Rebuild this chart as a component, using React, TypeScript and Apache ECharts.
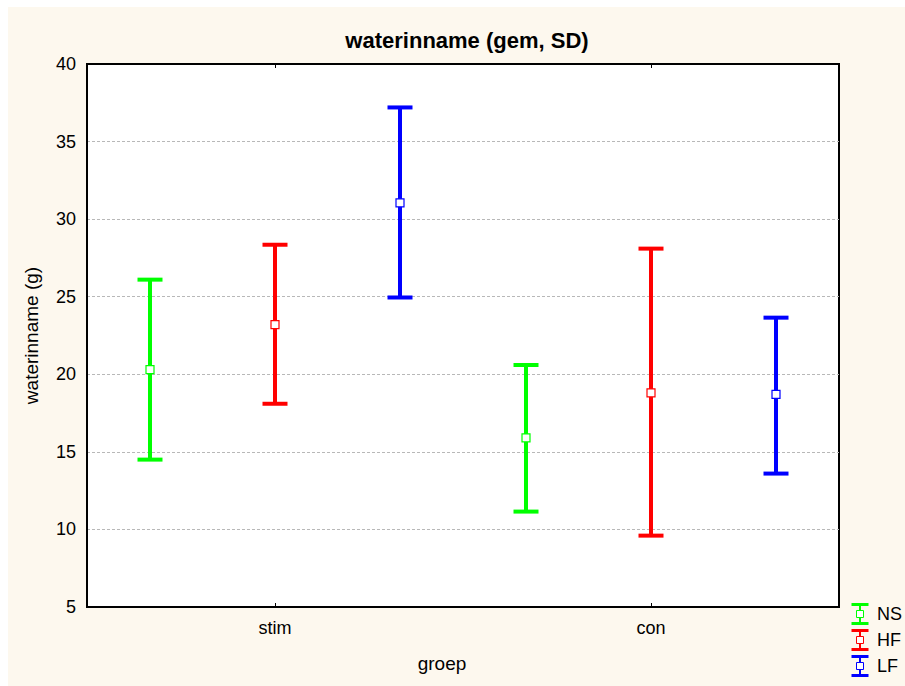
import React, { useEffect, useRef } from "react";
import * as echarts from "echarts";

const categories = ["stim", "con"];
const seriesNames = ["NS", "HF", "LF"];
const seriesColors = ["#00ff00", "#ff0000", "#0000ff"];
// mean per category
const nsMean = [20.3, 15.9];
const hfMean = [23.2, 18.8];
const lfMean = [31.05, 18.7];
// lower (mean - SD)
const nsLow = [14.5, 11.15];
const hfLow = [18.1, 9.6];
const lfLow = [24.95, 13.6];
// upper (mean + SD)
const nsHigh = [26.1, 20.6];
const hfHigh = [28.35, 28.1];
const lfHigh = [37.2, 23.65];
const yTicks = { min: 5, max: 40, interval: 5 };

const FONT = "Arial, 'Liberation Sans', sans-serif";

export default function App() {
  const ref = useRef<HTMLDivElement>(null);
  useEffect(() => {
    if (!ref.current) return;
    const chart = echarts.init(ref.current, null, { renderer: "svg" });
    const means = [nsMean, hfMean, lfMean];
    const lows = [nsLow, hfLow, lfLow];
    const highs = [nsHigh, hfHigh, lfHigh];
    const offsets = [-1, 0, 1];

    const series = seriesNames.map((name, si) => ({
      type: "custom",
      name,
      data: categories.map((_, ci) => [ci, means[si][ci], lows[si][ci], highs[si][ci]]),
      encode: { x: 0, y: [1, 2, 3] },
      itemStyle: { color: seriesColors[si] },
      renderItem: (params: any, api: any) => {
        const cat = api.value(0);
        const band = api.size([1, 0])[0];
        const pm = api.coord([cat, api.value(1)]);
        const pl = api.coord([cat, api.value(2)]);
        const ph = api.coord([cat, api.value(3)]);
        const x = Math.round(pm[0] + (offsets[si] * band) / 3);
        const c = seriesColors[si];
        const hw = 12.5;
        return {
          type: "group",
          children: [
            { type: "line", shape: { x1: x, y1: ph[1], x2: x, y2: pl[1] }, style: { stroke: c, lineWidth: 4 } },
            { type: "line", shape: { x1: x - hw, y1: ph[1], x2: x + hw, y2: ph[1] }, style: { stroke: c, lineWidth: 4 } },
            { type: "line", shape: { x1: x - hw, y1: pl[1], x2: x + hw, y2: pl[1] }, style: { stroke: c, lineWidth: 4 } },
            { type: "rect", shape: { x: x - 4, y: pm[1] - 4, width: 8, height: 8 }, style: { fill: "#ffffff", stroke: c, lineWidth: 1.2 } },
          ],
        };
      },
    }));

    // legend drawn with graphics
    const legendChildren: any[] = [];
    seriesNames.forEach((name, i) => {
      const cy = 607 + i * 26; // center in container coords
      const cx = 852;
      const c = seriesColors[i];
      legendChildren.push(
        { type: "line", shape: { x1: cx - 8.5, y1: cy - 9.5, x2: cx + 8.5, y2: cy - 9.5 }, style: { stroke: c, lineWidth: 3 } },
        { type: "line", shape: { x1: cx - 8.5, y1: cy + 9.5, x2: cx + 8.5, y2: cy + 9.5 }, style: { stroke: c, lineWidth: 3 } },
        { type: "line", shape: { x1: cx, y1: cy - 9.5, x2: cx, y2: cy + 9.5 }, style: { stroke: c, lineWidth: 2 } },
        { type: "rect", shape: { x: cx - 3.5, y: cy - 3.5, width: 7, height: 7 }, style: { fill: "#ffffff", stroke: c, lineWidth: 1 } },
        { type: "text", x: 869, y: cy, style: { text: name, fill: "#000", font: `18px ${FONT}`, textVerticalAlign: "middle", textAlign: "left" } }
      );
    });

    chart.setOption({
      animation: false,
      backgroundColor: "#fdf8ee",
      title: {
        text: "waterinname (gem, SD)",
        left: 454,
        textAlign: "center",
        top: 17,
        textStyle: { fontFamily: FONT, fontWeight: "bold", fontSize: 22, color: "#000" },
      },
      grid: {
        left: 79,
        top: 57,
        width: 752,
        height: 543,
        show: true,
        backgroundColor: "#ffffff",
        borderColor: "#000000",
        borderWidth: 2,
        containLabel: false,
      },
      xAxis: [
        {
          type: "category",
          data: categories,
          boundaryGap: true,
          axisLine: { show: true, lineStyle: { color: "#000", width: 2 } },
          axisTick: { show: true, inside: true, alignWithLabel: true, length: 4, lineStyle: { color: "#000", width: 1 } },
          axisLabel: { fontFamily: FONT, fontSize: 18, color: "#000", margin: 12 },
          splitLine: { show: false },
        },
        {
          type: "category",
          position: "top",
          data: categories,
          boundaryGap: true,
          axisLine: { show: true, lineStyle: { color: "#000", width: 2 } },
          axisTick: { show: true, inside: true, alignWithLabel: true, length: 4, lineStyle: { color: "#000", width: 1 } },
          axisLabel: { show: false },
          splitLine: { show: false },
        },
      ],
      yAxis: {
        type: "value",
        min: yTicks.min,
        max: yTicks.max,
        interval: yTicks.interval,
        name: "waterinname (g)",
        nameLocation: "middle",
        nameGap: 46,
        nameTextStyle: { fontFamily: FONT, fontSize: 19, color: "#000" },
        axisLine: { show: true, lineStyle: { color: "#000", width: 2 } },
        axisTick: { show: false },
        axisLabel: { fontFamily: FONT, fontSize: 18, color: "#000", margin: 11 },
        splitLine: { show: true, lineStyle: { color: "#b8b8b8", type: [3, 2], width: 1 } },
      },
      series,
      graphic: [
        {
          type: "text",
          x: 434,
          y: 656,
          style: { text: "groep", fill: "#000", font: `19px ${FONT}`, textAlign: "center", textVerticalAlign: "middle" },
        },
        { type: "group", children: legendChildren },
      ],
    });
    return () => chart.dispose();
  }, []);
  return (
    <div
      ref={ref}
      style={{ position: "absolute", left: 8, top: 7, width: 897, height: 679 }}
    />
  );
}
